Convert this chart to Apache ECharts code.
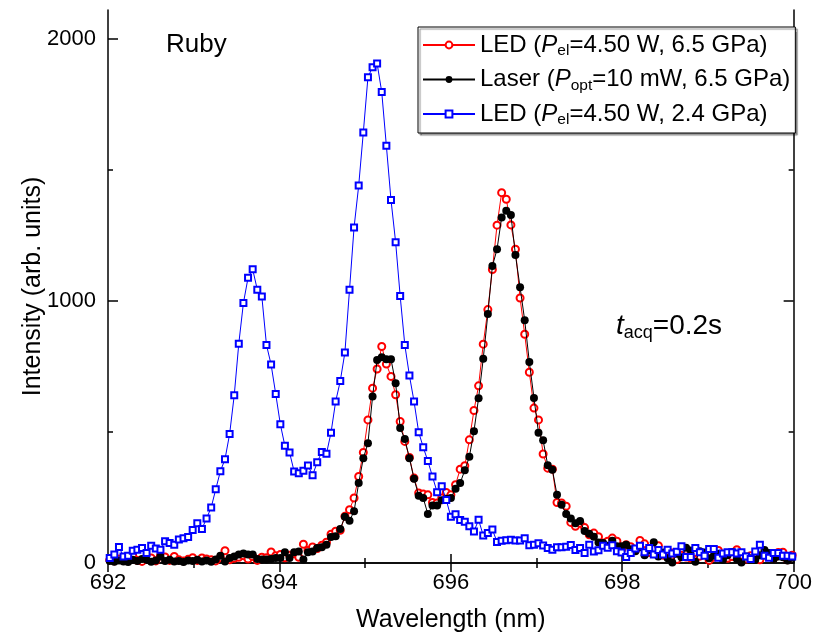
<!DOCTYPE html>
<html>
<head>
<meta charset="utf-8">
<script src="https://cdn.jsdelivr.net/npm/echarts@6/dist/echarts.min.js"></script>
<style>html,body{margin:0;padding:0;background:#fff}#c{width:815px;height:641px}</style>
</head>
<body>
<div id="c"></div>
<script>
const wavelengths = [692.020,692.074,692.128,692.181,692.235,692.289,692.343,692.397,692.450,692.504,
692.558,692.612,692.666,692.719,692.773,692.827,692.881,692.935,692.988,693.042,
693.096,693.150,693.204,693.257,693.311,693.365,693.419,693.473,693.526,693.580,
693.634,693.688,693.742,693.795,693.849,693.903,693.957,694.011,694.064,694.118,
694.172,694.226,694.280,694.333,694.387,694.441,694.495,694.549,694.602,694.656,
694.710,694.764,694.818,694.871,694.925,694.979,695.033,695.087,695.140,695.194,
695.248,695.302,695.356,695.409,695.463,695.517,695.571,695.625,695.678,695.732,
695.786,695.840,695.894,695.947,696.001,696.055,696.109,696.163,696.216,696.270,
696.324,696.378,696.432,696.485,696.539,696.593,696.647,696.701,696.754,696.808,
696.862,696.916,696.970,697.023,697.077,697.131,697.185,697.239,697.292,697.346,
697.400,697.454,697.508,697.561,697.615,697.669,697.723,697.777,697.830,697.884,
697.938,697.992,698.046,698.099,698.153,698.207,698.261,698.315,698.368,698.422,
698.476,698.530,698.584,698.637,698.691,698.745,698.799,698.853,698.906,698.960,
699.014,699.068,699.122,699.175,699.229,699.283,699.337,699.391,699.444,699.498,
699.552,699.606,699.660,699.713,699.767,699.821,699.875,699.929,699.983];

const ledHigh = [12,8,15,10,14,28,10,6,18,19, 8,28,23,10,25,12,8,14,20,10,
19,15,12,8,20,47,12,18,22,28, 15,25,10,22,20,42,28,32,20,30,
35,22,72,48,61,55,68,79,110,121, 125,178,203,248,330,422,546,667,740,826,
759,712,642,540,464,403,324,267,263,260, 231,229,248,269,260,299,358,371,470,582,
676,835,967,1120,1289,1413,1388,1290,1197,1011, 873,728,591,546,416,362,358,231,229,217,
155,140,152,135,108,114,100,76,83,95, 83,51,70,62,48,86,73,40,55,66,
30,45,38,13,30,23,19,40,26,35, 10,22,48,30,18,25,51,30,15,28,
20,12,35,25,18,40,41,12,30];

const laser = [8,5,10,6,4,12,8,15,12,5, 10,25,8,12,6,8,4,10,8,12,
6,10,5,13,28,6,19,25,32,36, 32,32,15,13,13,15,19,19,41,19,
41,44,13,41,44,57,60,70,99,102, 130,176,161,197,305,400,457,635,775,785,
777,777,686,515,473,400,321,257,248,187, 219,219,239,245,248,283,305,354,405,503,
629,779,950,1133,1197,1318,1344,1328,1175,1052, 926,767,630,497,468,373,356,260,222,187,
170,152,160,122,112,100,78,76,66,85, 64,64,70,52,45,60,30,48,79,25,
40,18,2,35,22,58,48,5,45,40, 18,28,35,12,30,42,15,2,25,18,
12,30,50,38,15,25,22,10,20];

const ledLow = [19,32,61,25,28,47,51,57,38,66, 55,51,83,76,70,90,94,99,126,152,
130,170,212,281,350,396,492,640,837,992, 1088,1121,1043,1017,832,757,645,529,447,422,
349,342,352,372,335,384,424,417,497,616, 694,803,1043,1280,1440,1643,1853,1892,1906,1797,
1592,1385,1224,1019,832,715,616,499,442,389, 330,270,293,240,176,186,164,157,140,120,
165,105,114,128,80,85,87,89,86,86, 94,68,70,75,67,57,51,60,60,62,
69,50,57,38,70,44,49,66,58,68, 45,40,23,38,55,66,41,57,32,50,
32,51,36,43,64,23,23,57,41,28, 53,53,20,36,41,41,36,41,25,15,
44,70,28,20,38,38,28,28,25];

const xTicks = [692, 694, 696, 698, 700];
const yMajorTicks = [0, 1000, 2000];
const yMinorTicks = [500, 1500];

const FONT = '"Liberation Sans", Arial, sans-serif';
const pairs = vals => wavelengths.map((w, i) => [w, vals[i]]);

const legendText = {
  led65: '{n|LED (}{i|P}{s|el}{n|=4.50 W, 6.5 GPa)}',
  laser: '{n|Laser (}{i|P}{s|opt}{n|=10 mW, 6.5 GPa)}',
  led24: '{n|LED (}{i|P}{s|el}{n|=4.50 W, 2.4 GPa)}'
};

const axisLineStyle = { color: '#000', width: 1.5 };
const xBase = {
  type: 'value', min: xTicks[0], max: xTicks[xTicks.length - 1], interval: 2,
  axisLine: { show: true, lineStyle: axisLineStyle },
  axisTick: { show: true, inside: true, length: 9, lineStyle: { color: '#000', width: 1.5 } },
  minorTick: { show: true, splitNumber: 2, length: 5, lineStyle: { color: '#000', width: 1.5 } },
  splitLine: { show: false }
};
const yBase = {
  type: 'value', min: 0, max: 2110,
  splitLine: { show: false },
  axisLine: { show: true, lineStyle: axisLineStyle }
};

const chart = echarts.init(document.getElementById('c'));
chart.setOption({
  animation: false,
  backgroundColor: '#fff',
  textStyle: { fontFamily: FONT },
  grid: { left: 108, right: 18, top: 10, bottom: 78, containLabel: false },
  xAxis: [
    Object.assign({}, xBase, {
      position: 'bottom',
      axisLabel: { show: true, fontSize: 22, color: '#000', fontFamily: FONT, margin: 9 },
      name: 'Wavelength (nm)', nameLocation: 'middle', nameGap: 45, nameMoveOverlap: false,
      nameTextStyle: { fontSize: 25, color: '#000', fontFamily: FONT }
    }),
    Object.assign({}, xBase, { position: 'top', axisLabel: { show: false } })
  ],
  yAxis: [
    Object.assign({}, yBase, {
      position: 'left',
      axisTick: { show: true, inside: true, length: 10, customValues: yMajorTicks, lineStyle: { color: '#000', width: 1.5 } },
      axisLabel: { show: true, customValues: yMajorTicks, formatter: v => String(v),
        fontSize: 22, color: '#000', fontFamily: FONT, margin: 12 },
      name: 'Intensity (arb. units)', nameLocation: 'middle', nameGap: 62, nameMoveOverlap: false,
      nameTextStyle: { fontSize: 25, color: '#000', fontFamily: FONT }
    }),
    Object.assign({}, yBase, {
      position: 'left', axisLine: { show: false },
      axisTick: { show: true, inside: true, length: 5, customValues: yMinorTicks, lineStyle: { color: '#000', width: 1.5 } },
      axisLabel: { show: false }
    }),
    Object.assign({}, yBase, {
      position: 'right',
      axisTick: { show: true, inside: true, length: 10, customValues: yMajorTicks, lineStyle: { color: '#000', width: 1.5 } },
      axisLabel: { show: false }
    }),
    Object.assign({}, yBase, {
      position: 'right', axisLine: { show: false },
      axisTick: { show: true, inside: true, length: 5, customValues: yMinorTicks, lineStyle: { color: '#000', width: 1.5 } },
      axisLabel: { show: false }
    })
  ],
  legend: {
    show: true, orient: 'vertical', left: 418, top: 27,
    selectedMode: false,
    itemWidth: 52, itemHeight: 8.5, itemGap: 6.5,
    padding: [4, 5, 5, 4],
    backgroundColor: '#fff', borderColor: '#000', borderWidth: 1,
    shadowColor: 'rgba(0,0,0,0.45)', shadowOffsetX: 2, shadowOffsetY: 2, shadowBlur: 1,
    data: ['led65', 'laser', 'led24'],
    formatter: name => legendText[name],
    textStyle: {
      color: '#000', fontFamily: FONT, fontSize: 24,
      rich: {
        n: { fontSize: 24, fontFamily: FONT, color: '#000', lineHeight: 28 },
        i: { fontSize: 24, fontFamily: FONT, color: '#000', fontStyle: 'italic', lineHeight: 28 },
        s: { fontSize: 15.5, fontFamily: FONT, color: '#000', lineHeight: 16, padding: [12, 0, 0, 0] }
      }
    }
  },
  graphic: [
    { type: 'text', left: 166, top: 32, z: 10,
      style: { text: 'Ruby', fontSize: 26, fontFamily: FONT, fill: '#000' } },
    { type: 'text', left: 616, top: 310, z: 10,
      style: {
        text: '{i|t}{s|acq}{n|=0.2s}',
        rich: {
          n: { fontSize: 28, fontFamily: FONT, fill: '#000', lineHeight: 32 },
          i: { fontSize: 28, fontFamily: FONT, fill: '#000', fontStyle: 'italic', lineHeight: 32 },
          s: { fontSize: 18, fontFamily: FONT, fill: '#000', lineHeight: 18, padding: [14, 0, 0, 0] }
        }
      } }
  ],
  series: [
    { name: 'led65', type: 'line', data: pairs(ledHigh),
      symbol: 'emptyCircle', symbolSize: 7, showAllSymbol: true,
      lineStyle: { color: '#ff0000', width: 1 },
      itemStyle: { color: '#ff0000', borderColor: '#ff0000', borderWidth: 1 }, z: 2 },
    { name: 'laser', type: 'line', data: pairs(laser),
      symbol: 'circle', symbolSize: 8, showAllSymbol: true,
      lineStyle: { color: '#000000', width: 1 },
      itemStyle: { color: '#000000' }, z: 3 },
    { name: 'led24', type: 'line', data: pairs(ledLow),
      symbol: 'emptyRect', symbolSize: 6, showAllSymbol: true,
      lineStyle: { color: '#0000ff', width: 1 },
      itemStyle: { color: '#0000ff', borderColor: '#0000ff', borderWidth: 1 }, z: 4 }
  ]
});
</script>
</body>
</html>
